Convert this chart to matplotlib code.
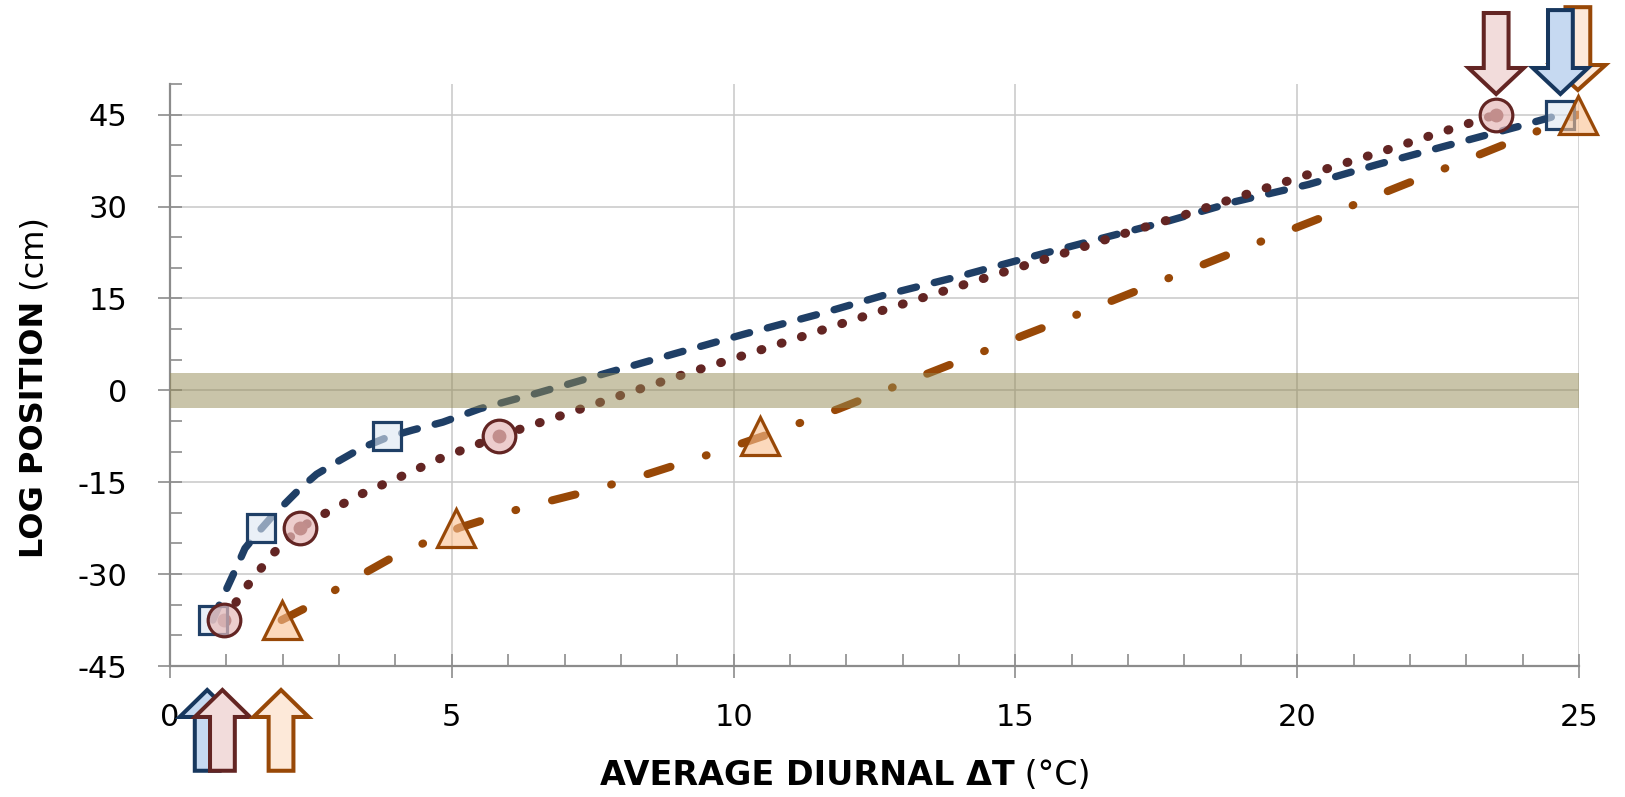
import matplotlib
matplotlib.use("Agg")
import matplotlib.pyplot as plt
from matplotlib.patches import Polygon
from matplotlib.ticker import MultipleLocator
from matplotlib.transforms import blended_transform_factory

plt.rcParams["axes.unicode_minus"] = False

# measured points: average diurnal dT (C) vs log position (cm)
blue_x = [0.76, 1.61, 3.85, 24.67]
blue_y = [-37.5, -22.5, -7.5, 45.0]
red_x = [0.96, 2.30, 5.83, 23.53]
red_y = [-37.5, -22.5, -7.5, 45.0]
orange_x = [1.98, 5.08, 10.47, 24.98]
orange_y = [-37.5, -22.5, -7.5, 45.0]

# trend curves
blue_fit_x = [0.76, 0.90, 1.05, 1.20, 1.33, 1.59, 1.80, 2.04, 2.30, 2.60, 3.00, 3.40,
              3.85, 4.30, 4.84, 5.50, 6.50, 7.70, 9.00, 10.2, 11.5, 12.7, 14.0, 15.2,
              16.4, 17.7, 18.9, 20.2, 21.4, 22.6, 23.9, 24.67]
blue_fit_y = [-37.5, -34.5, -31.5, -28.5, -25.8, -22.9, -20.7, -18.5, -16.1, -13.7, -11.5, -9.4,
              -7.7, -6.5, -5.2, -3.0, -0.5, 2.7, 6.1, 9.2, 12.4, 15.6, 18.6, 21.6,
              24.5, 27.6, 30.8, 33.6, 36.8, 39.8, 43.0, 45.0]
red_fit_x = [0.96, 1.33, 1.81, 2.30, 2.71, 3.38, 4.09, 4.80, 5.83, 6.98, 8.10, 9.18,
             10.28, 11.39, 12.49, 13.59, 14.69, 15.80, 16.90, 18.02, 19.10, 20.22, 21.31,
             22.41, 23.53]
red_fit_y = [-37.5, -32.4, -26.8, -22.5, -20.3, -17.0, -14.1, -11.1, -7.5, -4.0, -0.5, 2.8,
             6.0, 9.3, 12.6, 15.8, 19.0, 22.2, 25.5, 28.7, 32.0, 35.3, 38.4,
             41.7, 45.0]
orange_fit_x = [1.98, 2.52, 3.05, 4.04, 5.14, 6.29, 7.41, 8.50, 9.69, 10.77, 11.87, 12.99,
                14.07, 15.15, 16.30, 17.36, 18.46, 19.58, 20.66, 21.74, 22.86, 23.94, 24.98]
orange_fit_y = [-37.5, -35.0, -31.9, -26.8, -22.4, -19.1, -16.5, -13.6, -10.1, -6.7, -3.0, 1.1,
                5.0, 9.0, 13.1, 17.0, 21.0, 25.1, 29.0, 33.0, 37.1, 41.1, 45.0]

# shaded zone around zero
band_lo, band_hi = -2.9, 2.8

# block arrows marking first / last points
arrow_bottom_x = [0.66, 0.93, 1.97]      # blue, red, orange
arrow_top_x = [24.98, 24.67, 23.53]      # orange, blue, red

x_ticks = [0, 5, 10, 15, 20, 25]
y_ticks = [-45, -30, -15, 0, 15, 30, 45]

BLUE, RED, ORANGE = "#1F3F66", "#632523", "#984807"

fig = plt.figure(figsize=(16.25, 7.97), dpi=100)
ax = fig.add_axes([170 / 1625, 1 - 666 / 797, 1409 / 1625, 582 / 797])
ax.set_xlim(0, 25)
ax.set_ylim(-45, 50)

ax.set_xticks(x_ticks)
ax.set_yticks(y_ticks)
ax.xaxis.set_minor_locator(MultipleLocator(1))
ax.yaxis.set_minor_locator(MultipleLocator(5))
ax.grid(True, which="major", color="#C8C8C8", linewidth=1.1, zorder=0)
ax.set_axisbelow(True)
for side in ("top", "right"):
    ax.spines[side].set_visible(False)
for side in ("left", "bottom"):
    ax.spines[side].set_color("#8C8C8C")
    ax.spines[side].set_linewidth(1.6)
ax.tick_params(which="major", direction="inout", length=17, width=1.2, color="#8C8C8C",
               labelsize=22)
ax.tick_params(which="minor", direction="in", length=8.5, width=1.2, color="#8C8C8C")
ax.tick_params(axis="y", which="major", pad=22)
ax.tick_params(axis="x", which="major", pad=18)

# trend curves
ax.plot(blue_fit_x, blue_fit_y, color=BLUE, lw=5.3, linestyle=(0, (2.2, 2.5)),
        dash_capstyle="round", zorder=2)
ax.plot(red_fit_x, red_fit_y, color=RED, lw=6.5, linestyle=(0, (0.1, 2.25)),
        dash_capstyle="round", zorder=2)
ax.plot(orange_fit_x, orange_fit_y, color=ORANGE, lw=5.8,
        linestyle=(0, (3.0, 4.6, 0.1, 4.6)), dash_capstyle="round", zorder=2)

ax.axhspan(band_lo, band_hi, color="#948A54", alpha=0.5, lw=0, zorder=3)

# data markers (translucent faces)
ax.plot(red_x, red_y, "o", ms=9, color="#6E2A28", zorder=4, clip_on=False)
ax.plot(blue_x, blue_y, "s", ms=20, mfc=(0.863, 0.902, 0.949, 0.6), mec=BLUE, mew=2.3,
        zorder=5, clip_on=False)
ax.plot(red_x, red_y, "o", ms=23.5, mfc=(0.902, 0.725, 0.722, 0.7), mec=RED, mew=2.3,
        zorder=5, clip_on=False)
ax.plot(orange_x, orange_y, "^", ms=27, mfc=(0.98, 0.753, 0.565, 0.6), mec=ORANGE, mew=2.3,
        zorder=5, clip_on=False)

# hollow block arrows outside the plot area
trans = blended_transform_factory(ax.transData, ax.transAxes)
shaft_hw, head_hw = 0.22, 0.49


def block_arrow(xc, y_tail, y_head, y_tip, face, edge):
    pts = [(xc - shaft_hw, y_tail), (xc + shaft_hw, y_tail), (xc + shaft_hw, y_head),
           (xc + head_hw, y_head), (xc, y_tip), (xc - head_hw, y_head),
           (xc - shaft_hw, y_head)]
    ax.add_patch(Polygon(pts, closed=True, transform=trans, facecolor=face, edgecolor=edge,
                         lw=2.9, joinstyle="miter", clip_on=False, zorder=6))


bottom_style = [("#C6D9F1", "#17375E"), ("#F2DCDB", RED), ("#FDE9D9", ORANGE)]
for xc, (face, edge) in zip(arrow_bottom_x, bottom_style):
    block_arrow(xc, -0.180, -0.0876, -0.0412, face, edge)

top_style = [("#FDE9D9", ORANGE, 1.1320, 1.0326, 0.9897),
             ("#C6D9F1", "#17375E", 1.1270, 1.0275, 0.9828),
             ("#F2DCDB", RED, 1.1220, 1.0275, 0.9828)]
for xc, (face, edge, yt, yh, yp) in zip(arrow_top_x, top_style):
    block_arrow(xc, yt, yh, yp, face, edge)

# axis titles: bold part + regular units
tx = ax.text(0.305, -0.2040, "AVERAGE DIURNAL \u0394T", transform=ax.transAxes,
             fontsize=24, fontweight="bold", ha="left", va="baseline")
ax.annotate(" (\u00b0C)", xy=(1, 0), xycoords=tx, fontsize=24, ha="left", va="bottom")

ty = ax.text(-0.090, 0.185, "LOG POSITION", transform=ax.transAxes, fontsize=23,
             fontweight="bold", rotation=90, rotation_mode="anchor", ha="left", va="baseline")
ax.annotate(" (cm)", xy=(0.5, 1), xycoords=ty, fontsize=23, rotation=90,
            rotation_mode="anchor", ha="left", va="center")

fig.savefig("out.png", dpi=100)
plt.close(fig)
